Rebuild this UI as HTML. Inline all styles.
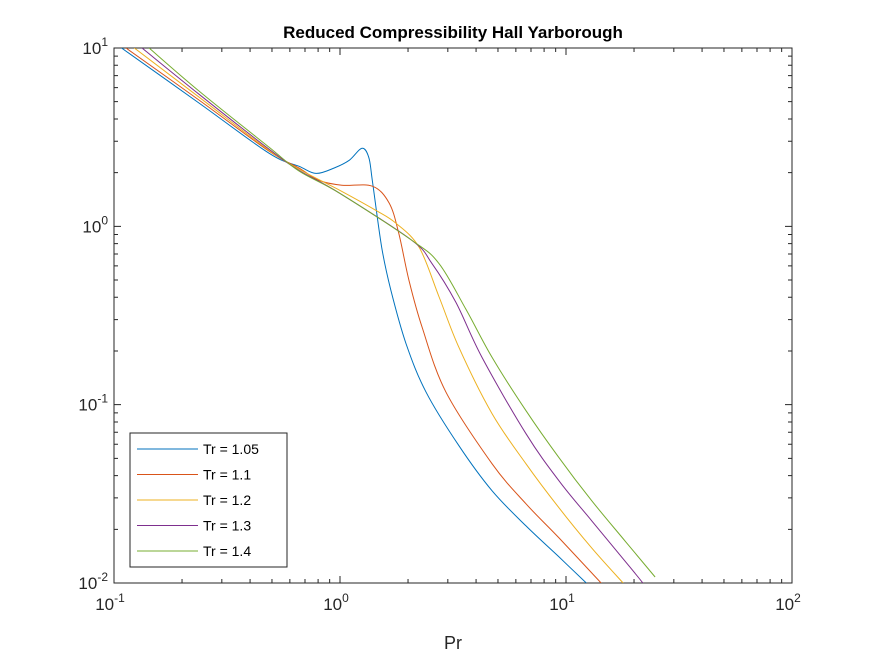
<!DOCTYPE html>
<html><head><meta charset="utf-8"><style>
body{margin:0;background:#fff;}
svg text{font-family:"Liberation Sans",Arial,sans-serif;}
</style></head><body>
<svg id="chart" width="875" height="656" xmlns="http://www.w3.org/2000/svg">
<rect width="875" height="656" fill="#fff"/>
<text x="453" y="38" text-anchor="middle" font-size="17" font-weight="bold">Reduced Compressibility Hall Yarborough</text>
<g id="axes"></g>
<g id="series"></g>
<text x="453" y="649" text-anchor="middle" font-size="18" fill="#262626">Pr</text>
<g id="legend"></g>
</svg>
<script>
const seriesNames=["Tr = 1.05","Tr = 1.1","Tr = 1.2","Tr = 1.3","Tr = 1.4"];
const colors=["#0072BD","#D95319","#EDB120","#7E2F8E","#77AC30"];
const pr105=[0.108,0.238,0.485,0.659,0.783,0.94,1.10,1.25,1.34,1.39,1.53,1.68,1.96,2.40,3.36,4.71,6.65,9.31,12.3];
const z105=[10,4.91,2.57,2.17,1.98,2.12,2.35,2.74,2.44,1.81,0.762,0.437,0.220,0.118,0.0588,0.0329,0.0209,0.0140,0.01];
const pr11=[0.113,0.238,0.485,0.659,0.807,1.02,1.39,1.65,1.82,2.02,2.31,2.94,4.71,6.65,9.31,14.3];
const z11=[10,5.1,2.64,2.12,1.81,1.70,1.68,1.35,0.913,0.497,0.271,0.118,0.0466,0.0278,0.0179,0.01];
const pr12=[0.123,0.238,0.485,0.659,1.0,1.44,1.77,2.24,2.74,3.36,4.71,6.65,9.31,13.0,17.9];
const z12=[10,5.3,2.67,2.09,1.59,1.23,1.04,0.762,0.404,0.209,0.089,0.0466,0.0264,0.0157,0.01];
const pr13=[0.133,0.238,0.485,0.659,1.0,2.08,2.55,3.26,4.25,6.65,9.31,13.0,18.4,21.9];
const z13=[10,5.5,2.71,2.06,1.53,0.834,0.62,0.374,0.184,0.0687,0.0374,0.0223,0.0131,0.01];
const pr14=[0.143,0.238,0.485,0.659,1.0,2.08,2.74,3.61,4.71,6.65,9.31,13.0,18.4,24.8];
const z14=[10,5.73,2.78,2.04,1.53,0.834,0.62,0.342,0.184,0.0925,0.0504,0.0289,0.0170,0.0108];
const xTickExp=[-1,0,1,2];
const yTickExp=[-2,-1,0,1];

const L=114,R=792,T=48,B=583;
const xMin=-1,xMax=2,yMin=-2,yMax=1;
function sx(v){return L+(Math.log10(v)-xMin)/(xMax-xMin)*(R-L);}
function sy(v){return B-(Math.log10(v)-yMin)/(yMax-yMin)*(B-T);}
const NS="http://www.w3.org/2000/svg";
function mk(tag,attrs,parent){const e=document.createElementNS(NS,tag);for(const k in attrs)e.setAttribute(k,attrs[k]);parent.appendChild(e);return e;}
const axes=document.getElementById('axes');
let d="";
for(let e=xMin;e<xMax;e++){for(let m=1;m<10;m++){const x=sx(m*Math.pow(10,e));const len=m===1?7:4;d+=`M${x},${B}v${-len}M${x},${T}v${len}`;}}
d+=`M${R},${B}v-7M${R},${T}v7`;
for(let e=yMin;e<yMax;e++){for(let m=1;m<10;m++){const y=sy(m*Math.pow(10,e));const len=m===1?7:4;d+=`M${L},${y}h${len}M${R},${y}h${-len}`;}}
d+=`M${L},${T}h7M${R},${T}h-7`;
const tk=mk('path',{d:d,stroke:'#262626','stroke-width':1,fill:'none'},axes);


const box=mk('rect',{x:L,y:T,width:R-L,height:B-T,fill:'none',stroke:'#262626','stroke-width':1},axes);


xTickExp.forEach(e=>{
  const t=mk('text',{x:sx(Math.pow(10,e))-4,y:B+27,'text-anchor':'middle','font-size':17,fill:'#262626'},axes);
  
  
  t.innerHTML=`10<tspan dy="-8" font-size="12">${e}</tspan>`;
});
yTickExp.forEach(e=>{
  const t=mk('text',{x:L-6,y:sy(Math.pow(10,e))+6,'text-anchor':'end','font-size':17,fill:'#262626'},axes);
  
  
  t.innerHTML=`10<tspan dy="-8" font-size="12">${e}</tspan>`;
});
const defs=mk('defs',{},document.getElementById('chart'));
const cp=mk('clipPath',{id:'clip'},defs);
mk('rect',{x:L,y:T,width:R-L,height:B-T},cp);
const data=[[pr105,z105],[pr11,z11],[pr12,z12],[pr13,z13],[pr14,z14]];
const sg=document.getElementById('series');
function spline(pts){
  let s=`M${pts[0][0]},${pts[0][1]}`;
  for(let i=0;i<pts.length-1;i++){
    const p0=pts[i-1]||pts[i],p1=pts[i],p2=pts[i+1],p3=pts[i+2]||p2;
    const c1=[p1[0]+(p2[0]-p0[0])/6,p1[1]+(p2[1]-p0[1])/6];
    const c2=[p2[0]-(p3[0]-p1[0])/6,p2[1]-(p3[1]-p1[1])/6];
    s+=`C${c1[0].toFixed(1)},${c1[1].toFixed(1)} ${c2[0].toFixed(1)},${c2[1].toFixed(1)} ${p2[0].toFixed(1)},${p2[1].toFixed(1)}`;
  }
  return s;
}
data.forEach((s,i)=>{
  const pts=s[0].map((p,j)=>[sx(p),sy(s[1][j])]);
  const p=mk('path',{d:spline(pts),stroke:colors[i],'stroke-width':1,fill:'none','clip-path':'url(#clip)'},sg);
  
  
});
const lg=document.getElementById('legend');
mk('rect',{x:130,y:433,width:157,height:134,fill:'#fff',stroke:'#262626','stroke-width':1},lg);
seriesNames.forEach((n,i)=>{
  const y=449+i*25.5;
  const g=mk('g',{},lg);
  
  
  mk('line',{x1:137,x2:198,y1:y,y2:y,stroke:colors[i],'stroke-width':1},g);
  const t=mk('text',{x:203,y:y+5,'font-size':14,fill:'#000'},g);
  t.textContent=n;
});
</script>
</body></html>
